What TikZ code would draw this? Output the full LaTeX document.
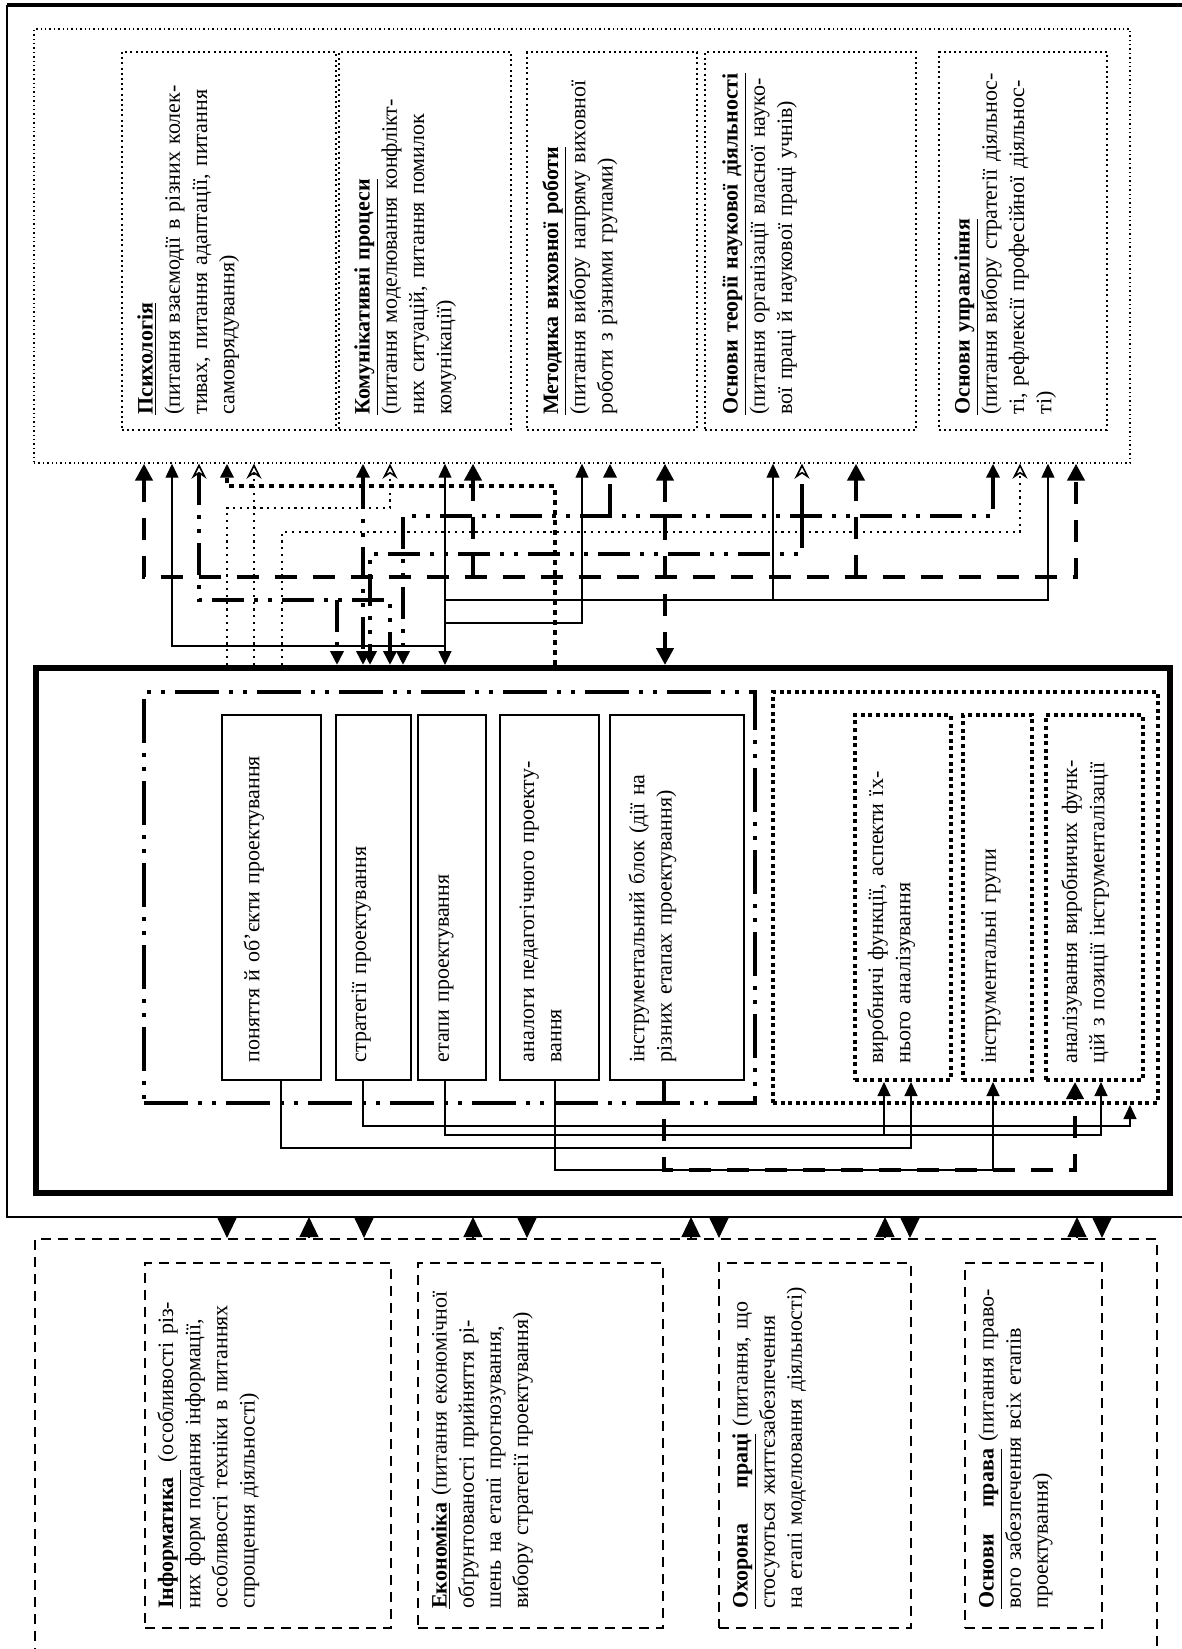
\documentclass[tikz,border=0pt]{standalone}
\usepackage{fontspec}
\setmainfont{Liberation Serif}
\usepackage{tikz}
\usetikzlibrary{arrows.meta}

\newcommand{\jl}[1]{\makebox[\hsize][s]{#1}}

\tikzset{
  grpdots/.style={draw, line width=0.7pt, dash pattern=on 0.7pt off 1.5pt, inner sep=0pt},
  boxdots/.style={draw, line width=1pt, dash pattern=on 1pt off 1.6pt, inner sep=0pt},
  mainframe/.style={draw, line width=3pt, inner sep=0pt},
  designframe/.style={draw, line width=2pt, dash pattern=on 22pt off 5pt on 2pt off 5pt on 2pt off 5pt, inner sep=0pt},
  itembox/.style={draw, line width=0.8pt, inner sep=0pt},
  analbox/.style={draw, line width=2pt, dash pattern=on 2pt off 1.8pt, inner sep=0pt},
  botbox/.style={draw, line width=1.1pt, dash pattern=on 5pt off 3.5pt, inner sep=0pt},
  vtext/.style={rotate=90, anchor=north west, inner sep=0pt, text width=#1, align=left,
    font=\fontsize{11pt}{13.6pt}\selectfont},
  thinlink/.style={line width=0.6pt},
  heavydash/.style={line width=2.4pt, dash pattern=on 11pt off 8pt},
  dashdots/.style={line width=1.8pt, dash pattern=on 16pt off 5pt on 2pt off 5pt on 2pt off 5pt},
  finedots/.style={line width=1.1pt, dash pattern=on 1.1pt off 2.3pt},
  heavydots/.style={line width=2.4pt, dash pattern=on 2.4pt off 2.6pt},
  tarr/.tip={Triangle[length=7pt,width=6.5pt]},
  hhead/.tip={Triangle[length=8.5pt,width=8.5pt]},
  chev/.tip={Stealth[open,length=7.5pt,width=7.5pt,inset=2.5pt,line width=0.8pt]},
  barr/.tip={Triangle[length=10pt,width=9.5pt]}
}

\begin{document}
\begin{tikzpicture}[x=0.5pt,y=-0.5pt]
  \useasboundingbox (0,0) rectangle (1182,1649);

  \draw[line width=1.6pt] (1182,5) -- (7,5);
  \draw[line width=1pt] (7,5) -- (7,1217) -- (1182,1217);
  \coordinate (framebot) at (0,1217);

  % upper group
  \node[grpdots, minimum width=548pt, minimum height=217pt] (topgrp) at (582,246) {};
  \node[boxdots, minimum width=107pt, minimum height=189pt] (psy)  at (229,241)   {};
  \node[boxdots, minimum width=86pt,  minimum height=189pt] (comm) at (425,241)   {};
  \node[boxdots, minimum width=85pt,  minimum height=189pt] (meth) at (612,241)   {};
  \node[boxdots, minimum width=105.5pt, minimum height=189pt] (sci) at (810.5,241) {};
  \node[boxdots, minimum width=84pt,  minimum height=189pt] (mgmt) at (1023,241)  {};

  \node[vtext=175pt] (psytxt) at ([shift={(8pt,8pt)}]psy.south west)
    {\underline{\textbf{Психологія}}\\
     \jl{(питання взаємодії в різних колек-}\\
     \jl{тивах, питання адаптації, питання}\\
     \mbox{самоврядування)}};
  \node[vtext=175pt] (commtxt) at ([shift={(8pt,8pt)}]comm.south west)
    {\underline{\textbf{Комунікативні процеси}}\\
     \jl{(питання моделювання конфлікт-}\\
     \jl{них ситуацій, питання помилок}\\
     \mbox{комунікації)}};
  \node[vtext=175pt] (methtxt) at ([shift={(8pt,8pt)}]meth.south west)
    {\underline{\textbf{Методика виховної роботи}}\\
     \jl{(питання вибору напряму виховної}\\
     \mbox{роботи з різними групами)}};
  \node[vtext=175pt] (scitxt) at ([shift={(9pt,8pt)}]sci.south west)
    {\underline{\textbf{Основи теорії наукової діяльності}}\\
     \jl{(питання організації власної науко-}\\
     \mbox{вої праці й наукової праці учнів)}};
  \node[vtext=175pt] (mgmttxt) at ([shift={(8pt,8pt)}]mgmt.south west)
    {\underline{\textbf{Основи управління}}\\
     \jl{(питання вибору стратегії діяльнос-}\\
     \jl{ті, рефлексії професійної діяльнос-}\\
     \mbox{ті)}};

  % main block
  \node[mainframe, minimum width=567pt, minimum height=262.5pt] (maingrp) at (603,930.5) {};
  \node[designframe, minimum width=305.5pt, minimum height=205.5pt] (designgrp) at (449.5,897.5) {};
  \node[itembox, minimum width=49.5pt, minimum height=182.5pt] (concepts) at (271.5,897.5) {};
  \node[itembox, minimum width=37.5pt, minimum height=182.5pt] (strat)    at (373.5,897.5) {};
  \node[itembox, minimum width=34pt,   minimum height=182.5pt] (stages)   at (452,897.5)   {};
  \node[itembox, minimum width=49.5pt, minimum height=182.5pt] (analog)   at (549.5,897.5) {};
  \node[itembox, minimum width=67pt,   minimum height=182.5pt] (instr)    at (677,897.5)   {};

  \node[vtext=168pt] at ([shift={(11pt,9pt)}]concepts.south west) {\mbox{поняття й об'єкти проектування}};
  \node[vtext=168pt] at ([shift={(8pt,9pt)}]strat.south west) {\mbox{стратегії проектування}};
  \node[vtext=168pt] at ([shift={(10.5pt,9pt)}]stages.south west) {\mbox{етапи проектування}};
  \node[vtext=168pt] at ([shift={(10pt,9pt)}]analog.south west)
    {\jl{аналоги педагогічного проекту-}\\ \mbox{вання}};
  \node[vtext=168pt] at ([shift={(9.5pt,9pt)}]instr.south west)
    {\jl{інструментальний блок (дії на}\\ \mbox{різних етапах проектування)}};

  \node[analbox, minimum width=192.5pt, minimum height=205.5pt] (analgrp) at (965.5,897.5) {};
  \node[analbox, minimum width=48pt,   minimum height=182.5pt] (funcs)    at (903,897.5)    {};
  \node[analbox, minimum width=34.5pt, minimum height=182.5pt] (groups)   at (997.5,897.5)  {};
  \node[analbox, minimum width=48.5pt, minimum height=182.5pt] (analysis) at (1094.5,897.5) {};

  \node[vtext=168pt] at ([shift={(7pt,9pt)}]funcs.south west)
    {\jl{виробничі функції, аспекти їх-}\\ \mbox{нього аналізування}};
  \node[vtext=168pt] at ([shift={(10pt,9pt)}]groups.south west) {\mbox{інструментальні групи}};
  \node[vtext=168pt] at ([shift={(8.5pt,9pt)}]analysis.south west)
    {\jl{аналізування виробничих функ-}\\ \mbox{цій з позиції інструменталізації}};

  % lower group
  \node[botbox, minimum width=561pt, minimum height=220.5pt] (botgrp) at (596,1459.5) {};
  \node[botbox, minimum width=123pt,   minimum height=182.5pt] (inform) at (268,1445.5)    {};
  \node[botbox, minimum width=122.5pt, minimum height=182.5pt] (econ)   at (540.5,1445.5)  {};
  \node[botbox, minimum width=96pt,    minimum height=182.5pt] (safety) at (815,1445.5)    {};
  \node[botbox, minimum width=68.5pt,  minimum height=182.5pt] (law)    at (1033.5,1445.5) {};

  \node[vtext=166pt] at ([shift={(6.5pt,10pt)}]inform.south west)
    {\jl{\underline{\textbf{Інформатика}\ } (особливості різ-}\\
     \jl{них форм подання інформації,}\\
     \jl{особливості техніки в питаннях}\\
     \mbox{спрощення діяльності)}};
  \node[vtext=166pt] at ([shift={(7pt,10pt)}]econ.south west)
    {\jl{\underline{\textbf{Економіка}} (питання економічної}\\
     \jl{обґрунтованості прийняття рі-}\\
     \jl{шень на етапі прогнозування,}\\
     \mbox{вибору стратегії проектування)}};
  \node[vtext=166pt] at ([shift={(7pt,10pt)}]safety.south west)
    {\jl{\underline{\textbf{Охорона\hspace{1.6em}праці}} (питання, що}\\
     \jl{стосуються життєзабезпечення}\\
     \mbox{на етапі моделювання діяльності)}};
  \node[vtext=166pt] at ([shift={(7pt,10pt)}]law.south west)
    {\jl{\underline{\textbf{Основи\hspace{1.2em}права}} (питання право-}\\
     \jl{вого забезпечення всіх етапів}\\
     \mbox{проектування)}};

  % links between upper group and main block
  \draw[heavydash, hhead-hhead] (144,0 |- topgrp.south) -- (144,577) -- (1076,577) -- (1076,0 |- topgrp.south);
  \draw[heavydash, -hhead] (473,577) -- (473,0 |- topgrp.south);
  \draw[heavydash, -hhead] (856,577) -- (856,0 |- topgrp.south);
  \draw[heavydash, hhead-hhead] (665,0 |- topgrp.south) -- (665,0 |- maingrp.north);

  \draw[dashdots, chev-tarr] (199,0 |- topgrp.south) -- (199,600) -- (390,600) -- (390,0 |- maingrp.north);
  \draw[dashdots, -tarr] (337,600) -- (337,0 |- maingrp.north);
  \draw[dashdots, tarr-tarr] (363,0 |- topgrp.south) -- (363,0 |- maingrp.north);
  \draw[dashdots, -tarr] (802,516) -- (802,554) -- (370,554) -- (370,0 |- maingrp.north);
  \draw[dashdots, tarr-tarr] (993,0 |- topgrp.south) -- (993,516) -- (403,516) -- (403,0 |- maingrp.north);
  \draw[dashdots, -chev] (802,516) -- (802,0 |- topgrp.south);
  \draw[dashdots, -tarr] (610,516) -- (610,0 |- topgrp.south);

  \draw[finedots, -chev] (227,0 |- maingrp.north) -- (227,508) -- (390,508) -- (390,0 |- topgrp.south);
  \draw[finedots, -chev] (254,0 |- maingrp.north) -- (254,0 |- topgrp.south);
  \draw[finedots, -chev] (282,0 |- maingrp.north) -- (282,532) -- (1020,532) -- (1020,0 |- topgrp.south);
  \draw[heavydots, -tarr] (555,0 |- maingrp.north) -- (555,486) -- (227,486) -- (227,0 |- topgrp.south);

  \draw[thinlink, tarr-tarr] (445,0 |- topgrp.south) -- (445,0 |- maingrp.north);
  \draw[thinlink, -tarr] (445,646) -- (172,646) -- (172,0 |- topgrp.south);
  \draw[thinlink, -tarr] (445,623) -- (582,623) -- (582,0 |- topgrp.south);
  \draw[thinlink, -tarr] (445,600) -- (1048,600) -- (1048,0 |- topgrp.south);
  \draw[thinlink, -tarr] (773,600) -- (773,0 |- topgrp.south);

  % links inside main block
  \draw[thinlink, -tarr] (281,0 |- concepts.south) -- (281,1148) -- (911,1148) -- (911,0 |- funcs.south);
  \draw[thinlink, -tarr] (363,0 |- strat.south) -- (363,1126) -- (1130,1126) -- (1130,0 |- analgrp.south);
  \draw[thinlink, -tarr] (445,0 |- stages.south) -- (445,1135) -- (1101,1135) -- (1101,0 |- analysis.south);
  \draw[thinlink, -tarr] (884,1135) -- (884,0 |- funcs.south);
  \draw[thinlink, -tarr] (555,0 |- analog.south) -- (555,1170) -- (993,1170) -- (993,0 |- groups.south);
  \draw[heavydash, -hhead] (664,0 |- instr.south) -- (664,1170) -- (1075,1170) -- (1075,0 |- analysis.south);

  % links to lower group
  \foreach \x in {227,364,527,719,910,1102}
    \draw[thinlink, -barr] (\x,0 |- framebot) -- (\x,0 |- botgrp.north);
  \foreach \x in {309,473,691,885,1077}
    \draw[thinlink, -barr] (\x,0 |- botgrp.north) -- (\x,0 |- framebot);
\end{tikzpicture}
\end{document}
